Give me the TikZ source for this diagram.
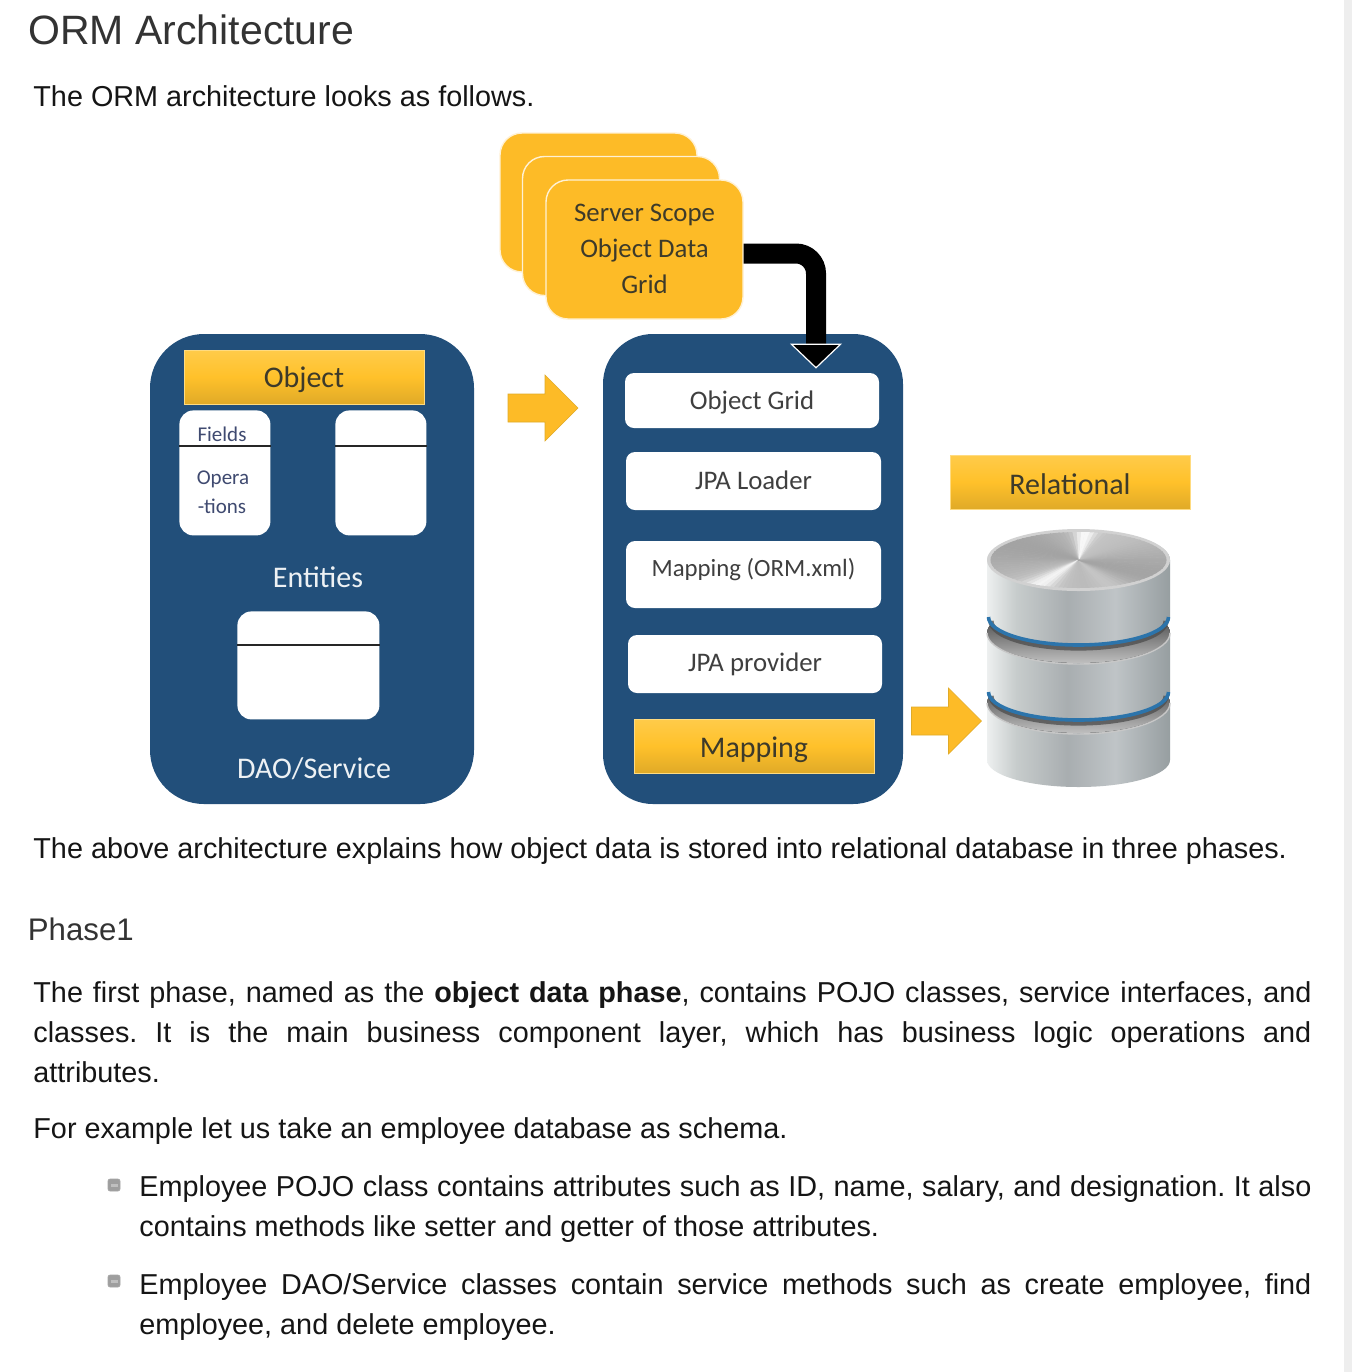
\documentclass[tikz,border=0pt]{standalone}
\usepackage{fontspec}
\setmainfont{Liberation Sans}
\newfontfamily\diagfont{Carlito}
\usetikzlibrary{arrows.meta,calc}
\frenchspacing
\definecolor{panelblue}{HTML}{224F7A}
\definecolor{cardgold}{HTML}{FDBB27}
\definecolor{goldtop}{HTML}{FFCB4A}
\definecolor{goldmid}{HTML}{FFC12A}
\definecolor{goldbot}{HTML}{E0AA28}
\definecolor{inkbody}{HTML}{151515}
\definecolor{inkhead}{HTML}{333333}
\definecolor{inkgold}{HTML}{3D3A2A}
\definecolor{inkgrid}{HTML}{3F3F3F}
\definecolor{inkfield}{HTML}{3F4A70}
\definecolor{scrollbar}{HTML}{EEEEEE}
\definecolor{bandblue}{HTML}{2C74AB}
\pgfdeclarehorizontalshading{metal}{100bp}{
 rgb(0bp)=(.52,.54,.55);
 rgb(6bp)=(.66,.68,.69);
 rgb(25bp)=(.93,.94,.94);
 rgb(33bp)=(.78,.80,.80);
 rgb(47bp)=(.66,.68,.69);
 rgb(60bp)=(.75,.77,.78);
 rgb(76bp)=(.58,.61,.62);
 rgb(92bp)=(.67,.69,.70);
 rgb(100bp)=(.50,.52,.53)}
\newcommand{\nudge}[2]{\raisebox{#1}[\height][\depth]{#2}}
\tikzset{
 panel/.style={fill=panelblue,draw=none,inner sep=0pt,rounded corners=27pt},
 whitebox/.style={fill=white,draw=none,inner sep=0pt,rounded corners=4.5pt,text=inkgrid,font=\diagfont\fontsize{13.4}{16}\selectfont},
 umlbox/.style={fill=white,draw=none,inner sep=0pt,rounded corners=7pt},
 goldbar/.style={inner sep=0pt,minimum width=120pt,minimum height=27pt,top color=goldtop,bottom color=goldbot,middle color=goldmid,draw=goldtop!70!white,line width=.4pt,text=inkgold,font=\diagfont\fontsize{15}{18}\selectfont},
 stackcard/.style={fill=cardgold,draw=white!80!cardgold,line width=.7pt,inner sep=0pt,rounded corners=11pt,minimum width=98.5pt,minimum height=69.5pt},
 goldarrow/.style={fill=cardgold,draw=goldbot,line width=.3pt},
 bigarrow/.style={black,line width=10pt,rounded corners=10pt,-{Triangle[length=12.5pt,width=26pt,color=white,fill=black,line width=.6pt]}},
 divider/.style={black!85,line width=1pt},
 lighttext/.style={text=white!92!panelblue,font=\diagfont\fontsize{15}{18}\selectfont},
 fieldtext/.style={text=inkfield,font=\diagfont\fontsize{10.5}{12}\selectfont},
 bodyline/.style={anchor=base west,inner sep=0pt,text=inkbody,font=\fontsize{14.4}{18}\selectfont},
 bulletbox/.style={draw=black!35,fill=black!38,rounded corners=1pt,inner sep=0pt,minimum width=6pt,minimum height=6pt,line width=.3pt},
}
\newcommand{\dbdisc}[3]{% top y, bottom y, bottom ry in pt
 \path[shading=metal] (987,#1) -- (987,#2) arc[start angle=180,end angle=360,x radius=45.75pt,y radius=#3] -- (1170,#1) arc[start angle=0,end angle=180,x radius=45.75pt,y radius=15pt] -- cycle;
}
\newcommand{\dbband}[1]{% band and its shadow, at bottom edge y
 \draw[black!70,line width=2.6pt,opacity=.75] (991,#1+4) arc[start angle=180,end angle=360,x radius=43.75pt,y radius=13.5pt];
 \draw[bandblue,line width=1.8pt] (988.5,#1) arc[start angle=180,end angle=360,x radius=45pt,y radius=14pt];
}
\newcommand{\blockarrow}[2]{% left x of shaft, centre y
 \path[goldarrow] (#1,#2-14) -- (#1+37,#2-14) -- (#1+37,#2-33) -- (#1+70,#2) -- (#1+37,#2+33) -- (#1+37,#2+14) -- (#1,#2+14) -- cycle;
}
\begin{document}
\begin{tikzpicture}[x=0.5pt,y=-0.5pt]
\useasboundingbox (0,0) rectangle (1352,1372);
\fill[white] (0,0) rectangle (1352,1372);
\fill[scrollbar] (1344,0) rectangle (1352,1372);
% headings and text
\node[anchor=base west,inner sep=0pt,text=inkhead,font=\fontsize{20.5}{24}\selectfont] (title) at (28,44) {ORM Architecture};
\node[bodyline] (intro) at (33,106) {The ORM architecture looks as follows.};
\node[bodyline] (above) at (33,858) {The above architecture explains how object data is stored into relational database in three phases.};
\node[anchor=base west,inner sep=0pt,text=inkhead,font=\fontsize{15.6}{18}\selectfont] (phase) at (27.5,940) {Phase1};
\node[bodyline] (p1) at (33,1002) {\makebox[639pt][s]{The first phase, named as the \textbf{object data phase}, contains POJO classes, service interfaces, and}};
\node[bodyline] (p2) at (33,1042) {\makebox[639pt][s]{classes. It is the main business component layer, which has business logic operations and}};
\node[bodyline] (p3) at (33,1082) {attributes.};
\node[bodyline] (p4) at (33,1138) {For example let us take an employee database as schema.};
\node[bodyline] (b1a) at (139,1196) {\makebox[586pt][s]{Employee POJO class contains attributes such as ID, name, salary, and designation. It also}};
\node[bodyline] (b1b) at (139,1236) {contains methods like setter and getter of those attributes.};
\node[bodyline] (b2a) at (139,1294) {\makebox[586pt][s]{Employee DAO/Service classes contain service methods such as create employee, find}};
\node[bodyline] (b2b) at (139,1334) {employee, and delete employee.};
\node[bulletbox] (bul1) at (114,1185) {};
\fill[white!75!black] (110.5,1184) rectangle (117.5,1186.5);
\node[bulletbox] (bul2) at (114,1281) {};
\fill[white!75!black] (110.5,1280) rectangle (117.5,1282.5);
% server cards
\node[stackcard] (card1) at (598.5,202.5) {};
\node[stackcard] (card2) at (621,226) {};
\node[stackcard,align=center,text=inkgold,font=\diagfont\fontsize{13.4}{18}\selectfont] (card3) at (644.5,249.5) {\nudge{.5pt}{Server Scope}\\\nudge{.5pt}{Object Data}\\\nudge{.5pt}{Grid}};
% left panel
\node[panel,minimum width=162pt,minimum height=235pt] (left) at (312,569) {};
\node[goldbar] (object) at (304,377) {\nudge{-1.5pt}{Object}};
\node[umlbox,minimum width=45.5pt,minimum height=62.5pt,anchor=north west] (ent1) at (179,410) {};
\node[umlbox,minimum width=45.5pt,minimum height=62.5pt,anchor=north west] (ent2) at (335,410) {};
\node[umlbox,minimum width=71pt,minimum height=54pt,anchor=north west] (dao) at (237,611) {};
\coordinate (d1) at (179,446); \coordinate (d2) at (335,446); \coordinate (d3) at (237,645);
\draw[divider] (d1) -- (d1 -| ent1.east);
\draw[divider] (d2) -- (d2 -| ent2.east);
\draw[divider] (d3) -- (d3 -| dao.east);
\node[fieldtext] (fields) at (222,434) {Fields};
\node[fieldtext] (opera) at (223,479) {Opera};
\node[fieldtext] (tions) at (222,506) {-tions};
\node[lighttext] (entities) at (318,577) {Entities};
\node[lighttext] (daotext) at (314,769) {DAO/Service};
% middle panel
\node[panel,rounded corners=25pt,minimum width=150pt,minimum height=235pt] (mid) at (753,569) {};
\node[whitebox,minimum width=127pt,minimum height=27.5pt] (ogrid) at (752,400.5) {\nudge{-1pt}{Object Grid}};
\node[whitebox,minimum width=127.5pt,minimum height=29pt] (loader) at (753.5,481) {\nudge{.5pt}{JPA Loader}};
\node[whitebox,minimum width=127.5pt,minimum height=33.5pt,font=\diagfont\fontsize{12.4}{15}\selectfont] (ormxml) at (753.5,574.5) {\nudge{2.5pt}{Mapping (ORM.xml)}};
\node[whitebox,minimum width=127pt,minimum height=29pt] (provider) at (755,664) {JPA provider};
\node[goldbar] (mapping) at (754,746) {\nudge{-2pt}{Mapping}};
% block arrows
\blockarrow{508}{408}
\blockarrow{911.5}{721}
\draw[bigarrow] ([yshift=-2pt]card3.east) -| ([xshift=32pt,yshift=2pt]ogrid.north);
% relational
\node[goldbar] (relational) at (1070,482) {\nudge{-1pt}{Relational}};
% database (bottom to top)
\dbdisc{703}{760}{13.5pt}
\fill[top color=black!85,middle color=black!72,bottom color=black!25] (1078.5,703) ellipse [x radius=45.75pt,y radius=15pt];
\draw[white!78!black,line width=.7pt] (987,703) arc[start angle=180,end angle=360,x radius=45.75pt,y radius=15.5pt];
\dbdisc{633}{692}{14pt}
\fill[top color=black!85,middle color=black!72,bottom color=black!25] (1078.5,633) ellipse [x radius=45.75pt,y radius=15pt];
\draw[white!78!black,line width=.7pt] (987,633) arc[start angle=180,end angle=360,x radius=45.75pt,y radius=15.5pt];
\dbband{692}
\dbdisc{560}{617}{14pt}
\dbband{617}
\fill[black!18] (1078.5,560) ellipse [x radius=45.75pt,y radius=15.5pt];
\begin{scope}
\clip (1078.5,560) ellipse [x radius=44pt,y radius=14pt];
\foreach \a in {0,4,...,356}{
 \pgfmathsetmacro{\gv}{max(3,min(60,30-6*cos(2*(\a-60))-24*exp(-((\a-82)/11)^2)-20*exp(-((\a-232)/13)^2)-10*exp(-((\a-300)/18)^2)))}
 \fill[black!\gv,draw=black!\gv,line width=.2pt] (1078.5,560) -- ({1078.5+110*cos(\a)},{560-50*sin(\a)}) -- ({1078.5+110*cos(\a+4)},{560-50*sin(\a+4)}) -- cycle;
}
\end{scope}
\end{tikzpicture}
\end{document}
